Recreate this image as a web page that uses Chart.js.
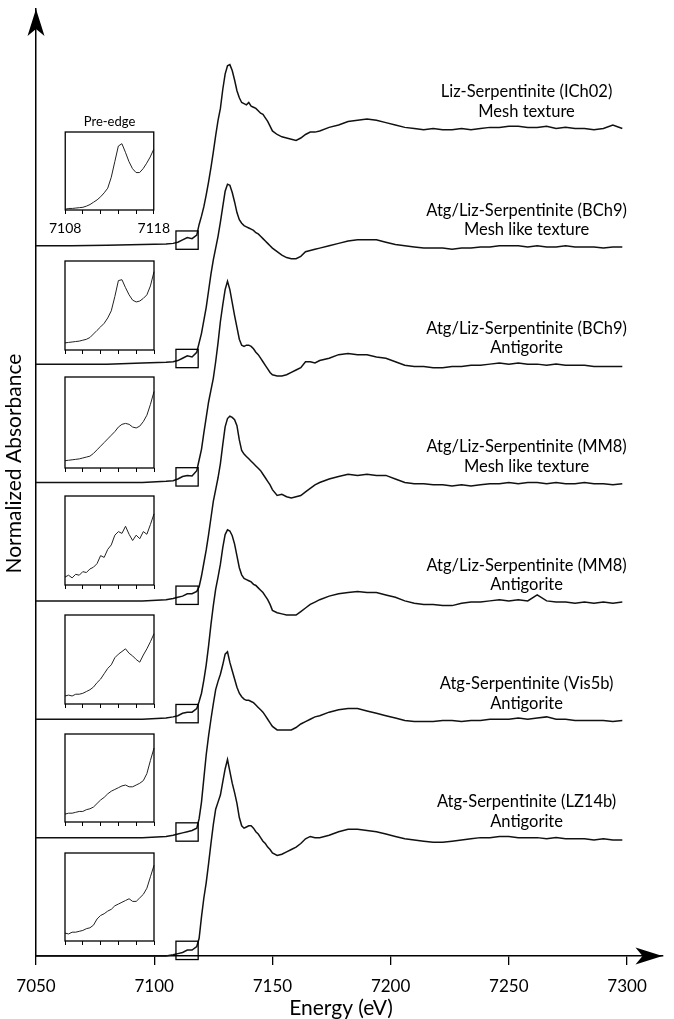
<!DOCTYPE html>
<html>
<head>
<meta charset="utf-8">
<script src="https://cdn.jsdelivr.net/npm/chart.js@4.4.0/dist/chart.umd.min.js"></script>
<style>
  body { margin: 0; background: #fff; }
  #wrap { position: relative; width: 674px; height: 1019px; }
  #wrap canvas { position: absolute; }
</style>
</head>
<body>
<div id="wrap"><canvas id="main" width="674" height="1019" style="left:0;top:0"></canvas></div>
<script>
// energy grid (eV), shared by the seven spectra
const energy = [7050, 7065, 7080, 7095, 7105, 7108, 7110, 7112, 7114, 7116, 7118,
  7119, 7120, 7121, 7122, 7123, 7124, 7125, 7126, 7127, 7128, 7129, 7130, 7131, 7132, 7133, 7134,
  7135, 7136, 7137, 7138, 7139, 7140, 7141, 7142, 7143, 7144, 7145, 7146, 7147, 7148, 7149, 7150,
  7152, 7154, 7156, 7158, 7160, 7162, 7164, 7166, 7168, 7170,
  7174, 7178, 7182, 7186, 7190, 7194, 7198, 7202, 7206, 7210, 7214, 7218, 7222, 7226, 7230, 7234,
  7238, 7242, 7246, 7250, 7254, 7258, 7262, 7266, 7270, 7274, 7278, 7282, 7286, 7290, 7294, 7298]

// normalized absorbance, one array per sample (top to bottom)
const ich02 = [0.00, 0.00, 0.005, 0.01, 0.015, 0.02, 0.03, 0.05, 0.07, 0.06, 0.09,
  0.18, 0.25, 0.33, 0.43, 0.54, 0.66, 0.79, 0.93, 1.06, 1.16, 1.32, 1.45, 1.52, 1.53, 1.48, 1.40,
  1.31, 1.25, 1.21, 1.20, 1.19, 1.21, 1.18, 1.17, 1.16, 1.14, 1.12, 1.11, 1.08, 1.05, 1.01, 0.97,
  0.94, 0.92, 0.91, 0.90, 0.89, 0.91, 0.94, 0.96, 0.96, 0.97,
  1.00, 1.02, 1.05, 1.06, 1.07, 1.06, 1.04, 1.02, 1.00, 0.99, 0.98, 0.99, 0.98, 0.98, 0.99, 0.98,
  0.99, 1.00, 1.00, 1.01, 1.01, 1.00, 1.00, 1.01, 0.99, 1.00, 0.99, 0.99, 0.98, 0.99, 1.02, 0.99]
const bch9Mesh = [0.00, 0.00, 0.00, 0.01, 0.015, 0.02, 0.03, 0.05, 0.07, 0.06, 0.10,
  0.18, 0.26, 0.37, 0.48, 0.62, 0.76, 0.88, 0.98, 1.08, 1.20, 1.33, 1.46, 1.52, 1.51, 1.45, 1.37,
  1.28, 1.22, 1.19, 1.17, 1.16, 1.15, 1.14, 1.13, 1.11, 1.10, 1.08, 1.06, 1.04, 1.02, 1.00, 0.98,
  0.95, 0.92, 0.90, 0.89, 0.89, 0.91, 0.95, 0.96, 0.97, 0.98,
  1.00, 1.02, 1.04, 1.05, 1.05, 1.05, 1.03, 1.01, 1.00, 0.99, 0.98, 0.98, 0.98, 0.97, 0.98, 0.98,
  0.99, 0.99, 1.00, 1.00, 1.00, 0.99, 1.00, 0.99, 0.99, 1.00, 0.99, 0.99, 0.99, 0.98, 0.99, 0.99]
const bch9Atg = [0.00, 0.00, 0.00, 0.00, 0.01, 0.015, 0.03, 0.05, 0.06, 0.055, 0.10,
  0.19, 0.28, 0.42, 0.55, 0.68, 0.78, 0.88, 1.02, 1.18, 1.36, 1.50, 1.63, 1.70, 1.63, 1.52, 1.41,
  1.31, 1.21, 1.16, 1.15, 1.16, 1.16, 1.15, 1.13, 1.10, 1.08, 1.05, 1.02, 0.99, 0.96, 0.93, 0.91,
  0.90, 0.90, 0.91, 0.93, 0.95, 0.97, 1.02, 1.02, 1.01, 1.03,
  1.05, 1.08, 1.09, 1.08, 1.08, 1.06, 1.05, 1.02, 0.99, 0.98, 0.98, 0.97, 0.97, 0.98, 0.98, 0.99,
  0.99, 1.00, 1.01, 1.00, 1.01, 1.00, 1.00, 0.99, 1.00, 0.99, 0.99, 0.99, 0.98, 0.98, 0.98, 0.98]
const mm8Mesh = [0.00, 0.00, 0.00, 0.00, 0.01, 0.02, 0.03, 0.04, 0.06, 0.06, 0.08,
  0.12, 0.21, 0.32, 0.43, 0.56, 0.70, 0.84, 0.94, 1.04, 1.16, 1.32, 1.47, 1.54, 1.56, 1.55, 1.53,
  1.48, 1.36, 1.27, 1.24, 1.22, 1.20, 1.18, 1.16, 1.14, 1.12, 1.10, 1.07, 1.04, 1.01, 0.98, 0.94,
  0.89, 0.90, 0.88, 0.87, 0.88, 0.89, 0.92, 0.95, 0.98, 1.00,
  1.03, 1.05, 1.07, 1.06, 1.07, 1.06, 1.06, 1.03, 1.00, 0.99, 0.99, 0.98, 0.98, 0.97, 0.98, 0.97,
  0.98, 0.99, 0.99, 1.00, 0.99, 1.00, 1.00, 0.99, 1.00, 0.99, 0.99, 1.00, 0.99, 0.99, 0.98, 0.99]
const mm8Atg = [0.00, 0.00, 0.00, 0.00, 0.01, 0.02, 0.03, 0.05, 0.06, 0.06, 0.09,
  0.15, 0.22, 0.33, 0.46, 0.62, 0.80, 0.96, 1.10, 1.20, 1.31, 1.45, 1.56, 1.60, 1.59, 1.55, 1.48,
  1.38, 1.28, 1.22, 1.19, 1.18, 1.17, 1.16, 1.14, 1.13, 1.11, 1.09, 1.07, 1.04, 1.01, 0.97, 0.92,
  0.90, 0.89, 0.88, 0.88, 0.88, 0.91, 0.94, 0.97, 0.99, 1.01,
  1.04, 1.06, 1.07, 1.08, 1.07, 1.07, 1.05, 1.03, 1.00, 0.98, 0.97, 0.97, 0.96, 0.96, 0.98, 0.99,
  0.99, 1.00, 1.01, 1.00, 1.01, 1.00, 1.05, 1.00, 0.99, 0.99, 0.98, 0.99, 0.98, 0.99, 0.98, 0.99]
const vis5b = [0.00, 0.00, 0.00, 0.00, 0.01, 0.02, 0.03, 0.04, 0.05, 0.06, 0.08,
  0.16, 0.30, 0.50, 0.70, 0.86, 1.00, 1.13, 1.25, 1.32, 1.38, 1.46, 1.55, 1.57, 1.48, 1.41, 1.34,
  1.27, 1.22, 1.19, 1.17, 1.16, 1.16, 1.15, 1.14, 1.12, 1.10, 1.08, 1.06, 1.03, 1.00, 0.97, 0.94,
  0.91, 0.91, 0.91, 0.91, 0.93, 0.96, 0.98, 1.00, 1.02, 1.03,
  1.06, 1.08, 1.09, 1.09, 1.07, 1.05, 1.03, 1.01, 0.99, 0.98, 0.98, 0.98, 0.99, 0.99, 0.98, 0.99,
  0.99, 1.00, 1.00, 1.00, 1.01, 1.00, 1.01, 1.02, 1.00, 1.00, 0.99, 0.99, 0.99, 0.99, 0.98, 0.99]
const lz14b = [0.00, 0.00, 0.00, 0.00, 0.00, 0.01, 0.02, 0.03, 0.05, 0.05, 0.08,
  0.15, 0.33, 0.49, 0.62, 0.78, 0.95, 1.11, 1.24, 1.30, 1.36, 1.47, 1.58, 1.66, 1.56, 1.46, 1.38,
  1.29, 1.17, 1.10, 1.08, 1.09, 1.10, 1.10, 1.08, 1.05, 1.03, 1.00, 0.97, 0.95, 0.92, 0.90, 0.87,
  0.85, 0.86, 0.88, 0.90, 0.92, 0.95, 0.99, 1.01, 1.00, 1.00,
  1.02, 1.05, 1.07, 1.07, 1.06, 1.05, 1.03, 1.01, 0.99, 0.98, 0.97, 0.96, 0.96, 0.97, 0.98, 0.99,
  1.00, 1.00, 1.01, 1.01, 1.00, 1.00, 1.00, 0.99, 1.00, 0.99, 0.99, 0.99, 0.98, 0.99, 0.98, 0.98]

const spectra = [ich02, bch9Mesh, bch9Atg, mm8Mesh, mm8Atg, vis5b, lz14b]
const offsets = [6, 5, 4, 3, 2, 1, 0]
const sampleNames = ['Liz-Serpentinite (ICh02)', 'Atg/Liz-Serpentinite (BCh9)', 'Atg/Liz-Serpentinite (BCh9)',
  'Atg/Liz-Serpentinite (MM8)', 'Atg/Liz-Serpentinite (MM8)', 'Atg-Serpentinite (Vis5b)', 'Atg-Serpentinite (LZ14b)']
const textures = ['Mesh texture', 'Mesh like texture', 'Antigorite', 'Mesh like texture', 'Antigorite', 'Antigorite', 'Antigorite']
const xTicks = [7050, 7100, 7150, 7200, 7250, 7300]
const boxRange = [7109.2, 7118.6]

// pre-edge insets (relative intensity inside each box)
const insetEnergy = [7108.0, 7108.4, 7108.8, 7109.2, 7109.6, 7110.0, 7110.4, 7110.8, 7111.2, 7111.6,
  7112.0, 7112.4, 7112.8, 7113.2, 7113.6, 7114.0, 7114.4, 7114.8, 7115.2, 7115.6, 7116.0, 7116.4,
  7116.8, 7117.2, 7117.6, 7118.0]
const preIch02 = [0.01, 0.02, 0.02, 0.025, 0.03, 0.035, 0.05, 0.07, 0.10, 0.13, 0.17, 0.22, 0.28,
  0.42, 0.62, 0.82, 0.85, 0.74, 0.62, 0.53, 0.48, 0.48, 0.53, 0.60, 0.68, 0.78]
const preBch9Mesh = [0.08, 0.085, 0.09, 0.095, 0.10, 0.11, 0.12, 0.14, 0.18, 0.22, 0.26, 0.30, 0.36,
  0.44, 0.60, 0.78, 0.79, 0.70, 0.62, 0.56, 0.54, 0.55, 0.58, 0.62, 0.72, 0.88]
const preBch9Atg = [0.08, 0.085, 0.09, 0.095, 0.10, 0.11, 0.12, 0.13, 0.16, 0.20, 0.24, 0.28, 0.32,
  0.36, 0.40, 0.45, 0.48, 0.49, 0.48, 0.45, 0.44, 0.46, 0.51, 0.58, 0.70, 0.84]
const preMm8Mesh = [0.09, 0.11, 0.08, 0.12, 0.11, 0.15, 0.14, 0.18, 0.20, 0.24, 0.33, 0.31, 0.40,
  0.45, 0.56, 0.60, 0.58, 0.66, 0.57, 0.50, 0.56, 0.52, 0.60, 0.57, 0.68, 0.80]
const preMm8Atg = [0.09, 0.10, 0.09, 0.11, 0.11, 0.12, 0.14, 0.16, 0.19, 0.24, 0.28, 0.34, 0.40,
  0.44, 0.52, 0.56, 0.59, 0.62, 0.57, 0.54, 0.50, 0.47, 0.55, 0.62, 0.70, 0.79]
const preVis5b = [0.09, 0.10, 0.10, 0.11, 0.12, 0.12, 0.14, 0.15, 0.17, 0.21, 0.25, 0.28, 0.32,
  0.35, 0.37, 0.39, 0.41, 0.42, 0.40, 0.40, 0.42, 0.44, 0.47, 0.55, 0.70, 0.84]
const preLz14b = [0.09, 0.08, 0.10, 0.10, 0.11, 0.12, 0.14, 0.15, 0.18, 0.25, 0.29, 0.31, 0.34,
  0.36, 0.40, 0.42, 0.44, 0.46, 0.48, 0.45, 0.45, 0.49, 0.53, 0.60, 0.73, 0.86]
const preEdges = [preIch02, preBch9Mesh, preBch9Atg, preMm8Mesh, preMm8Atg, preVis5b, preLz14b]
const insetTicks = [7108, 7110, 7112, 7114, 7116, 7118]

const FONT = 'Lato'

function arrowHead(ctx, x, y, dir) {
  const len = 27, half = 8.5, notch = 20
  ctx.beginPath()
  if (dir === 'up') {
    ctx.moveTo(x, y)
    ctx.lineTo(x - half, y + len)
    ctx.lineTo(x, y + notch)
    ctx.lineTo(x + half, y + len)
  } else {
    ctx.moveTo(x, y)
    ctx.lineTo(x - len, y - half)
    ctx.lineTo(x - notch, y)
    ctx.lineTo(x - len, y + half)
  }
  ctx.closePath()
  ctx.fill()
}

const decor = {
  id: 'decor',
  afterDatasetsDraw(chart) {
    const { ctx, chartArea: a } = chart
    const x = chart.scales.x, y = chart.scales.y
    ctx.save()
    ctx.strokeStyle = '#000'
    ctx.lineWidth = 1.3
    offsets.forEach(o => {
      const x0 = x.getPixelForValue(boxRange[0]), x1 = x.getPixelForValue(boxRange[1])
      const y0 = y.getPixelForValue(o + 0.125), y1 = y.getPixelForValue(o - 0.03)
      ctx.strokeRect(x0, y0, x1 - x0, y1 - y0)
    })
    ctx.fillStyle = '#000'
    ctx.font = '16.5px ' + FONT
    ctx.textAlign = 'center'
    ctx.textBaseline = 'middle'
    const lx = x.getPixelForValue(7257.5)
    sampleNames.forEach((name, k) => {
      ctx.fillText(name, lx, y.getPixelForValue(offsets[k] + 1.30))
      ctx.fillText(textures[k], lx, y.getPixelForValue(offsets[k] + 1.135))
    })
    // axis titles
    ctx.font = '21px ' + FONT
    ctx.fillText('Energy (eV)', x.getPixelForValue(7179), 1008)
    ctx.save()
    ctx.translate(14, y.getPixelForValue(4.16))
    ctx.rotate(-Math.PI / 2)
    ctx.fillText('Normalized Absorbance', 0, 0)
    ctx.restore()
    arrowHead(ctx, a.left, a.top, 'up')
    arrowHead(ctx, a.right, a.bottom, 'right')
    ctx.restore()
  }
}

new Chart(document.getElementById('main'), {
  type: 'line',
  data: {
    datasets: spectra.map((vals, k) => ({
      label: sampleNames[k] + ' ' + textures[k],
      data: energy.map((e, i) => ({ x: e, y: vals[i] + offsets[k] })),
      borderColor: '#111',
      borderWidth: 1.5,
      pointRadius: 0,
      tension: 0,
      clip: false
    }))
  },
  options: {
    responsive: false,
    animation: false,
    layout: { padding: { top: 9, right: 11.5, left: 0, bottom: 0 } },
    plugins: { legend: { display: false }, tooltip: { enabled: false } },
    scales: {
      x: {
        type: 'linear',
        min: 7050,
        max: 7315,
        afterBuildTicks(scale) { scale.ticks = xTicks.map(v => ({ value: v })) },
        afterFit(scale) { scale.height = 63 },
        grid: { drawOnChartArea: false, drawTicks: true, tickLength: 9, color: '#000', lineWidth: 1.3 },
        border: { color: '#000', width: 1.5 },
        ticks: { color: '#000', font: { family: FONT, size: 17 }, padding: 11, maxRotation: 0, callback: v => String(v) }
      },
      y: {
        min: 0,
        max: 8,
        afterFit(scale) { scale.width = 36 },
        grid: { display: false },
        border: { color: '#000', width: 1.5 },
        ticks: { display: false }
      }
    }
  },
  plugins: [decor]
})

// inset boxes: left edge, width, top and height of each frame on the page
const insetLeft = 65, insetWidth = 89
const insetTop = [132, 261, 377, 496, 615, 734, 853]
const insetHeight = [78, 89, 91, 89, 89, 88, 88]

const frame = {
  id: 'frame',
  afterDraw(chart) {
    const { ctx, chartArea: a } = chart
    ctx.save()
    ctx.strokeStyle = '#000'
    ctx.lineWidth = 1.3
    ctx.strokeRect(a.left, a.top, a.right - a.left, a.bottom - a.top)
    ctx.restore()
  }
}

const wrap = document.getElementById('wrap')
preEdges.forEach((vals, i) => {
  const first = i === 0
  const padX = 22
  const headH = first ? 18 : 2
  const axisH = first ? 28 : 6
  const cv = document.createElement('canvas')
  cv.width = insetWidth + 2 * padX
  cv.height = headH + insetHeight[i] + axisH
  cv.style.left = (insetLeft - padX) + 'px'
  cv.style.top = (insetTop[i] - headH) + 'px'
  wrap.appendChild(cv)
  new Chart(cv, {
    type: 'line',
    data: {
      datasets: [{
        data: insetEnergy.map((e, j) => ({ x: e, y: vals[j] })),
        borderColor: '#222',
        borderWidth: 1,
        pointRadius: 0,
        tension: 0,
        clip: false
      }]
    },
    options: {
      responsive: false,
      animation: false,
      layout: { padding: { left: padX, right: padX, top: first ? 0 : headH, bottom: 0 } },
      plugins: {
        legend: { display: false },
        tooltip: { enabled: false },
        title: {
          display: first,
          text: 'Pre-edge',
          color: '#000',
          font: { family: FONT, size: 13, weight: 'normal', lineHeight: 1.2 },
          padding: { top: 0, bottom: 2.4 }
        }
      },
      scales: {
        x: {
          type: 'linear',
          min: 7108,
          max: 7118,
          afterBuildTicks(scale) { scale.ticks = insetTicks.map(v => ({ value: v })) },
          afterFit(scale) { scale.height = axisH },
          grid: { drawOnChartArea: false, drawTicks: true, tickLength: 4, color: '#000', lineWidth: 1 },
          border: { display: false },
          ticks: {
            display: first,
            color: '#000',
            font: { family: FONT, size: 14 },
            padding: 6,
            maxRotation: 0,
            autoSkip: false,
            callback: v => (v === 7108 || v === 7118) ? String(v) : ''
          }
        },
        y: { display: false, min: 0, max: 1 }
      }
    },
    plugins: [frame]
  })
})
</script>
</body>
</html>
